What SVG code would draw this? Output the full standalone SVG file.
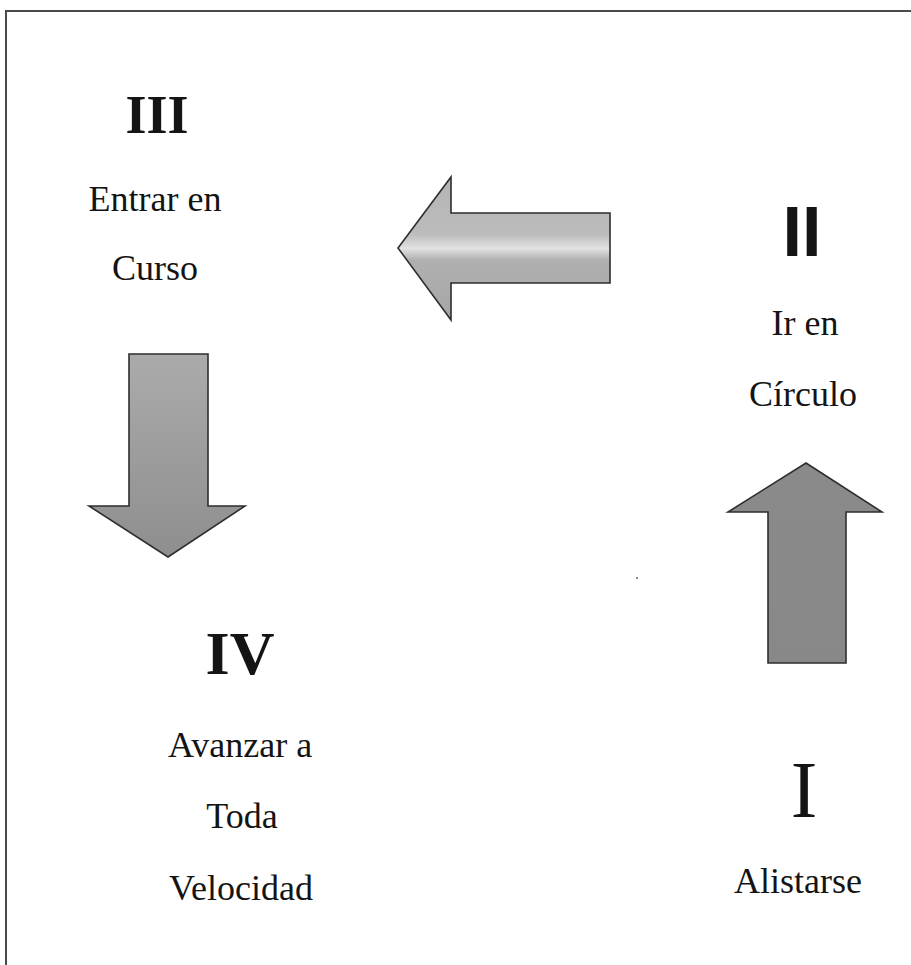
<svg xmlns="http://www.w3.org/2000/svg" width="911" height="965" viewBox="0 0 911 965">
<style>
.num{font-family:"Liberation Serif","Times New Roman",serif;font-weight:bold;fill:#141414;text-anchor:middle}
.lbl{font-family:"Liberation Serif","Times New Roman",serif;font-size:36px;fill:#141414;text-anchor:middle}
.arrow{stroke:#2e2e2e;stroke-width:1.6;stroke-linejoin:miter}
.frame{stroke:#4a4a4a;stroke-width:2;fill:none}
</style>
<defs>
<linearGradient id="gLeft" x1="0" y1="0" x2="0" y2="1">
<stop offset="0" stop-color="#b4b4b4"/>
<stop offset="0.4" stop-color="#bcbcbc"/>
<stop offset="0.5" stop-color="#e2e2e2"/>
<stop offset="0.58" stop-color="#b0b0b0"/>
<stop offset="1" stop-color="#a6a6a6"/>
</linearGradient>
<linearGradient id="gDown" x1="0" y1="0" x2="0" y2="1">
<stop offset="0" stop-color="#ababab"/>
<stop offset="1" stop-color="#8e8e8e"/>
</linearGradient>
<linearGradient id="gUp" x1="0" y1="0" x2="0" y2="1">
<stop offset="0" stop-color="#8a8a8a"/>
<stop offset="1" stop-color="#888888"/>
</linearGradient>
</defs>
<rect width="911" height="965" fill="#ffffff"/>
<g id="frame">
<line class="frame" x1="5" y1="11" x2="911" y2="11"/>
<line class="frame" x1="6" y1="10" x2="6" y2="965"/>
</g>
<g id="connectors">
<polygon class="arrow" fill="url(#gLeft)" points="610,213 451,213 451,177 398,248 451,320 451,283 610,283"/>
<polygon class="arrow" fill="url(#gDown)" points="129,354 208,354 208,506 245,506 168,557 89,506 129,506"/>
<polygon class="arrow" fill="url(#gUp)" points="806,463 882,512 846,512 846,663 768,663 768,512 728,512"/>
</g>
<g id="node-III">
<text class="num" x="157" y="133" font-size="54">III</text>
<text class="lbl" x="155" y="211">Entrar en</text>
<text class="lbl" x="155" y="280">Curso</text>
</g>
<g id="node-II">
<text x="802" y="256" font-family="'Liberation Sans',Arial,sans-serif" font-weight="bold" font-size="70" fill="#141414" text-anchor="middle">II</text>
<text class="lbl" x="805" y="335">Ir en</text>
<text class="lbl" x="803" y="406">Círculo</text>
</g>
<g id="node-IV">
<text class="num" x="240" y="674" font-size="62">IV</text>
<text class="lbl" x="240" y="757">Avanzar a</text>
<text class="lbl" x="242" y="828">Toda</text>
<text class="lbl" x="241" y="900">Velocidad</text>
</g>
<g id="node-I">
<text x="804" y="817" font-family="'Liberation Serif','Times New Roman',serif" font-size="80" fill="#141414" text-anchor="middle">I</text>
<text class="lbl" x="798" y="893">Alistarse</text>
</g>
<rect x="636" y="577" width="2" height="2" fill="#888888"/>
</svg>
